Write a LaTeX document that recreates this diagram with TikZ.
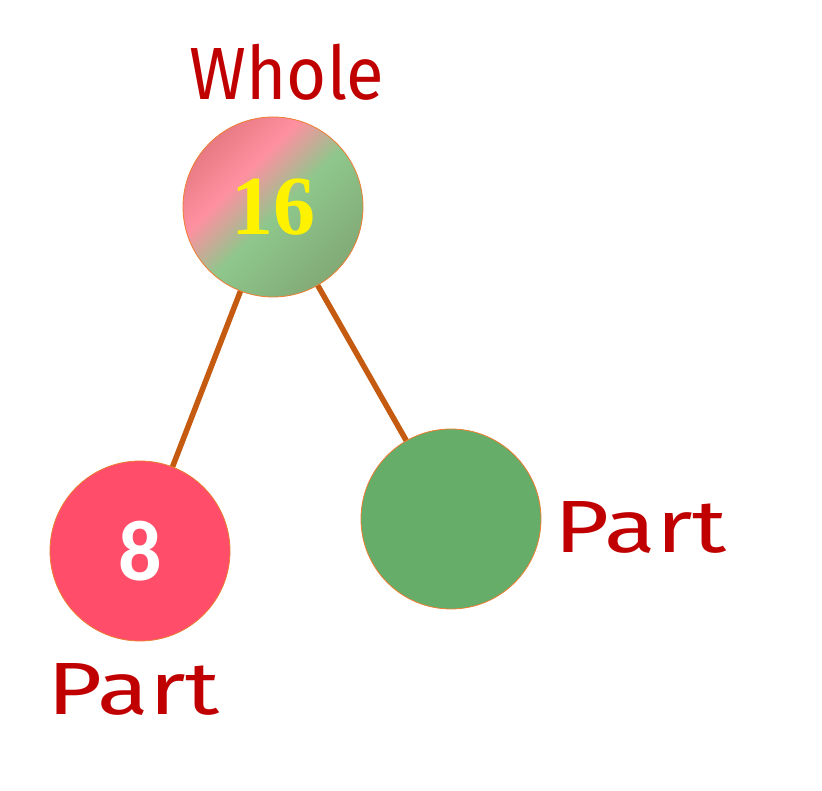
\documentclass[tikz,border=0pt]{standalone}
\usepackage{fontspec}
\setmainfont{Liberation Serif}
\newfontfamily\labelfont{Fira Sans}
\newfontfamily\numfont{Liberation Serif}
\newfontfamily\eightfont{Carlito}
\definecolor{labelred}{HTML}{C00000}
\definecolor{linebrown}{HTML}{C55A11}
\definecolor{rimorange}{HTML}{ED7D31}
\definecolor{partred}{HTML}{FF4D6A}
\definecolor{partgreen}{HTML}{66AD69}
\definecolor{pdark}{HTML}{E87A84}
\definecolor{plight}{HTML}{FF90A0}
\definecolor{gmid}{HTML}{8EC78C}
\definecolor{gdark}{HTML}{82AA76}
\pgfdeclareverticalshading{wholeshade}{100bp}{color(0bp)=(gdark); color(25bp)=(gdark); color(48bp)=(gmid); color(62bp)=(plight); color(75bp)=(pdark); color(100bp)=(pdark)}
\tikzset{
  ball/.style={circle, minimum size=180pt, inner sep=0pt, draw=rimorange, line width=0.8pt},
  link/.style={draw=linebrown, line width=5.5pt},
  lbl/.style={text=labelred, font=\labelfont\fontsize{74}{80}\selectfont, anchor=base, inner sep=0pt},
}
\begin{document}
\begin{tikzpicture}[x=1pt,y=1pt]
\useasboundingbox (0,0) rectangle (822,791);
\node[ball, shading=wholeshade, shading angle=45] (whole) at (273,584) {};
\node[ball, fill=partred] (left) at (140,240) {};
\node[ball, fill=partgreen] (right) at (451,272) {};
\path[link] (whole) -- (left);
\path[link] (whole) -- (right);
\node[text=yellow, font=\numfont\bfseries\fontsize{84}{90}\selectfont, inner sep=0pt] (sixteen) at (whole) {16};
\node[text=white, font=\eightfont\bfseries\fontsize{86}{90}\selectfont, inner sep=0pt] (eight) at (left) {8};
\node[lbl, xscale=0.93] (wlabel) at (287,691) {Whole};
\node[lbl, xscale=1.28] (plabel1) at (134,76) {Part};
\node[lbl, xscale=1.28] (plabel2) at (641,238) {Part};
\end{tikzpicture}
\end{document}
